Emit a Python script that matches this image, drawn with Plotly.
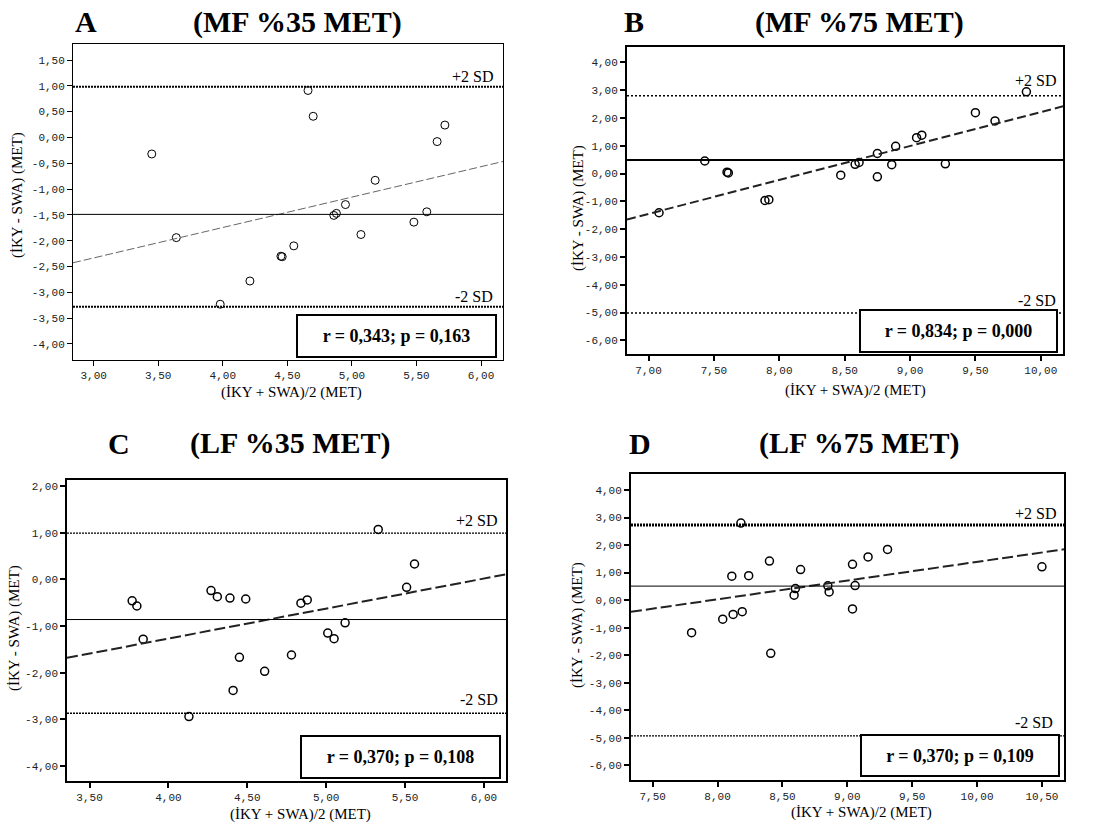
import plotly.graph_objects as go

W, H = 1097, 825

# ---------------- data ----------------
a_x = [3.45, 3.64, 3.98, 4.21, 4.45, 4.46, 4.55, 4.66, 4.70, 4.86, 4.88, 4.95, 5.07, 5.18, 5.48, 5.58, 5.66, 5.72]
a_y = [-0.32, -1.94, -3.23, -2.78, -2.30, -2.31, -2.10, 0.91, 0.41, -1.51, -1.47, -1.30, -1.88, -0.83, -1.64, -1.44, -0.08, 0.24]

b_x = [7.08, 7.43, 7.60, 7.61, 7.89, 7.92, 8.47, 8.58, 8.61, 8.75, 8.75, 8.86, 8.89, 9.05, 9.09, 9.27, 9.50, 9.65, 9.89]
b_y = [-1.41, 0.45, 0.05, 0.02, -0.97, -0.94, -0.06, 0.33, 0.40, 0.72, -0.12, 0.32, 0.98, 1.29, 1.38, 0.35, 2.19, 1.89, 2.94]

c_x = [3.77, 3.80, 3.84, 4.13, 4.27, 4.31, 4.39, 4.41, 4.45, 4.49, 4.61, 4.78, 4.84, 4.88, 5.01, 5.05, 5.12, 5.33, 5.51, 5.56]
c_y = [-0.46, -0.57, -1.28, -2.94, -0.24, -0.37, -0.40, -2.38, -1.67, -0.42, -1.97, -1.62, -0.51, -0.44, -1.15, -1.27, -0.93, 1.07, -0.17, 0.33]

d_x = [7.80, 8.04, 8.11, 8.12, 8.18, 8.19, 8.24, 8.40, 8.41, 8.59, 8.60, 8.64, 8.85, 8.86, 9.04, 9.04, 9.06, 9.16, 9.31, 10.50]
d_y = [-1.18, -0.69, 0.87, -0.52, 2.80, -0.42, 0.89, 1.42, -1.93, 0.18, 0.42, 1.11, 0.52, 0.30, 1.30, -0.32, 0.53, 1.57, 1.84, 1.21]

# mean difference and limits of agreement
means = [-1.49, 0.49, -0.86, 0.51]
upper_sd = [0.98, 2.80, 0.99, 2.73]
lower_sd = [-3.28, -5.02, -2.87, -4.93]

# regression lines: intercept, slope
reg_intercept = [-4.10, -9.99, -3.84, -5.41]
reg_slope = [0.589, 1.220, 0.643, 0.680]

letters = ["A", "B", "C", "D"]
titles = ["(MF %35 MET)", "(MF %75 MET)", "(LF %35 MET)", "(LF %75 MET)"]
stats = ["r = 0,343; p = 0,163", "r = 0,834; p = 0,000", "r = 0,370; p = 0,108", "r = 0,370; p = 0,109"]

a_xticks = [3.0, 3.5, 4.0, 4.5, 5.0, 5.5, 6.0]
a_xtext = ["3,00", "3,50", "4,00", "4,50", "5,00", "5,50", "6,00"]
a_yticks = [1.5, 1.0, 0.5, 0.0, -0.5, -1.0, -1.5, -2.0, -2.5, -3.0, -3.5, -4.0]
a_ytext = ["1,50", "1,00", "0,50", "0,00", "-0,50", "-1,00", "-1,50", "-2,00", "-2,50", "-3,00", "-3,50", "-4,00"]

b_xticks = [7.0, 7.5, 8.0, 8.5, 9.0, 9.5, 10.0]
b_xtext = ["7,00", "7,50", "8,00", "8,50", "9,00", "9,50", "10,00"]
bd_yticks = [4, 3, 2, 1, 0, -1, -2, -3, -4, -5, -6]
bd_ytext = ["4,00", "3,00", "2,00", "1,00", "0,00", "-1,00", "-2,00", "-3,00", "-4,00", "-5,00", "-6,00"]

c_xticks = [3.5, 4.0, 4.5, 5.0, 5.5, 6.0]
c_xtext = ["3,50", "4,00", "4,50", "5,00", "5,50", "6,00"]
c_yticks = [2, 1, 0, -1, -2, -3, -4]
c_ytext = ["2,00", "1,00", "0,00", "-1,00", "-2,00", "-3,00", "-4,00"]

d_xticks = [7.5, 8.0, 8.5, 9.0, 9.5, 10.0, 10.5]
d_xtext = ["7,50", "8,00", "8,50", "9,00", "9,50", "10,00", "10,50"]

x_title = "(İKY + SWA)/2 (MET)"
y_title = "(İKY - SWA) (MET)"

# ---------------- layout helpers ----------------
def px(x):
    return x / W

def py(y):
    return 1 - y / H

panels = [
    dict(xs=a_x, ys=a_y, dom=(73, 503, 44, 360), xr=(2.84, 6.17), yr=(-4.31, 1.81),
         xt=(a_xticks, a_xtext), yt=(a_yticks, a_ytext), lw=1, tickw=1,
         reg=dict(color="#666666", width=1, dash="8px,3px"), mw=1, sdw=(2, 2), sdd="2px,1px",
         mk=1.0, letter_x=86, title_x=297, title_y=22, xt_x=291, xt_y=393, yt_x=18, yt_y=195,
         box=(396.5, 336, 201, 44), plus=(495, 76), minus=(495, 296)),
    dict(xs=b_x, ys=b_y, dom=(627, 1063, 47, 354), xr=(6.835, 10.17), yr=(-6.49, 4.55),
         xt=(b_xticks, b_xtext), yt=(bd_yticks, bd_ytext), lw=2, tickw=2,
         reg=dict(color="#222222", width=2, dash="9px,4px"), mw=2, sdw=(1.5, 1.5), sdd="2px,2px",
         mk=1.5, letter_x=634, title_x=859, title_y=22, xt_x=855, xt_y=391, yt_x=578, yt_y=208,
         box=(958, 330.5, 199, 44), plus=(1058, 81), minus=(1058, 300)),
    dict(xs=c_x, ys=c_y, dom=(67, 506, 480, 781), xr=(3.357, 6.14), yr=(-4.32, 2.13),
         xt=(c_xticks, c_xtext), yt=(c_yticks, c_ytext), lw=1.5, tickw=2,
         reg=dict(color="#222222", width=2, dash="11px,4px"), mw=1, sdw=(1.2, 1.5), sdd="2px,1px",
         mk=1.5, letter_x=119, title_x=290, title_y=443, xt_x=300, xt_y=814, yt_x=14, yt_y=628,
         box=(400, 757, 201, 44), plus=(499, 520), minus=(500, 699)),
    dict(xs=d_x, ys=d_y, dom=(631, 1064, 474, 780), xr=(7.333, 10.67), yr=(-6.53, 4.58),
         xt=(d_xticks, d_xtext), yt=(bd_yticks, bd_ytext), lw=2, tickw=2,
         reg=dict(color="#222222", width=2, dash="11px,4px"), mw=1, sdw=(3, 1.2), sdd="2px,1px",
         mk=1.5, letter_x=640, title_x=859, title_y=443, xt_x=861, xt_y=812, yt_x=577, yt_y=625,
         box=(960, 755, 200, 43), plus=(1058, 513), minus=(1055, 722)),
]

fig = go.Figure()
shapes = []
annotations = []
layout_axes = {}

serif = "Liberation Serif, Times New Roman, serif"
mono = "Liberation Mono, Courier New, monospace"

for i, p in enumerate(panels):
    k = "" if i == 0 else str(i + 1)
    xa, ya = "x" + k, "y" + k
    x0, x1, y0, y1 = p["dom"]

    # points
    fig.add_trace(go.Scatter(
        x=p["xs"], y=p["ys"], mode="markers", xaxis=xa, yaxis=ya, showlegend=False,
        marker=dict(symbol="circle-open", size=8, color="black", line=dict(width=p["mk"], color="black")),
    ))
    # regression line across x range
    xr0, xr1 = p["xr"]
    fig.add_trace(go.Scatter(
        x=[xr0, xr1], y=[reg_intercept[i] + reg_slope[i] * xr0, reg_intercept[i] + reg_slope[i] * xr1],
        mode="lines", xaxis=xa, yaxis=ya, showlegend=False, line=p["reg"], hoverinfo="skip",
    ))

    # mean line and +/-2 SD lines
    xdom = xa + " domain"
    shapes.append(dict(type="line", xref=xdom, yref=ya, x0=0, x1=1, y0=means[i], y1=means[i],
                       line=dict(color="black", width=p["mw"])))
    shapes.append(dict(type="line", xref=xdom, yref=ya, x0=0, x1=1, y0=upper_sd[i], y1=upper_sd[i],
                       line=dict(color="black", width=p["sdw"][0], dash=p["sdd"])))
    shapes.append(dict(type="line", xref=xdom, yref=ya, x0=0, x1=1, y0=lower_sd[i], y1=lower_sd[i],
                       line=dict(color="black", width=p["sdw"][1], dash=p["sdd"])))

    axis_common = dict(showgrid=False, zeroline=False, showline=True, mirror=True, linecolor="black",
                       linewidth=p["lw"], ticks="outside", ticklen=5, tickwidth=p["tickw"], tickcolor="black",
                       tickfont=dict(family=mono, size=11, color="#222222"), tickmode="array")
    layout_axes["xaxis" + k] = dict(axis_common, domain=[px(x0), px(x1)], range=list(p["xr"]),
                                    tickvals=p["xt"][0], ticktext=p["xt"][1], anchor=ya)
    layout_axes["yaxis" + k] = dict(axis_common, domain=[py(y1), py(y0)], range=list(p["yr"]),
                                    tickvals=p["yt"][0], ticktext=p["yt"][1], anchor=xa)

    # titles
    annotations.append(dict(text="<b>%s</b>" % letters[i], x=px(p["letter_x"]), y=py(p["title_y"]),
                            xref="paper", yref="paper", showarrow=False, xanchor="center", yanchor="middle",
                            font=dict(family=serif, size=30, color="black")))
    annotations.append(dict(text="<b>%s</b>" % titles[i], x=px(p["title_x"]), y=py(p["title_y"]),
                            xref="paper", yref="paper", showarrow=False, xanchor="center", yanchor="middle",
                            font=dict(family=serif, size=30, color="black")))
    # axis titles
    annotations.append(dict(text=x_title, x=px(p["xt_x"]), y=py(p["xt_y"]), xref="paper", yref="paper",
                            showarrow=False, xanchor="center", yanchor="middle",
                            font=dict(family=serif, size=15, color="black")))
    annotations.append(dict(text=y_title, x=px(p["yt_x"]), y=py(p["yt_y"]), xref="paper", yref="paper",
                            showarrow=False, xanchor="center", yanchor="middle", textangle=-90,
                            font=dict(family=serif, size=15, color="black")))
    # SD labels
    annotations.append(dict(text="+2 SD", x=px(p["plus"][0]), y=py(p["plus"][1]), xref="paper", yref="paper",
                            showarrow=False, xanchor="right", yanchor="middle",
                            font=dict(family=serif, size=16, color="black")))
    annotations.append(dict(text="-2 SD", x=px(p["minus"][0]), y=py(p["minus"][1]), xref="paper", yref="paper",
                            showarrow=False, xanchor="right", yanchor="middle",
                            font=dict(family=serif, size=16, color="black")))
    # stats box
    bx, by, bw, bh = p["box"]
    annotations.append(dict(text="<b>%s</b>" % stats[i], x=px(bx), y=py(by), xref="paper", yref="paper",
                            showarrow=False, xanchor="center", yanchor="middle",
                            width=bw - 4, height=bh - 4, borderpad=0, borderwidth=2,
                            bordercolor="black", bgcolor="white",
                            font=dict(family=serif, size=18, color="black")))

fig.update_layout(
    width=W, height=H, margin=dict(l=0, r=0, t=0, b=0),
    paper_bgcolor="white", plot_bgcolor="white",
    shapes=shapes, annotations=annotations, showlegend=False,
    **layout_axes,
)

fig.write_html("out.html")
